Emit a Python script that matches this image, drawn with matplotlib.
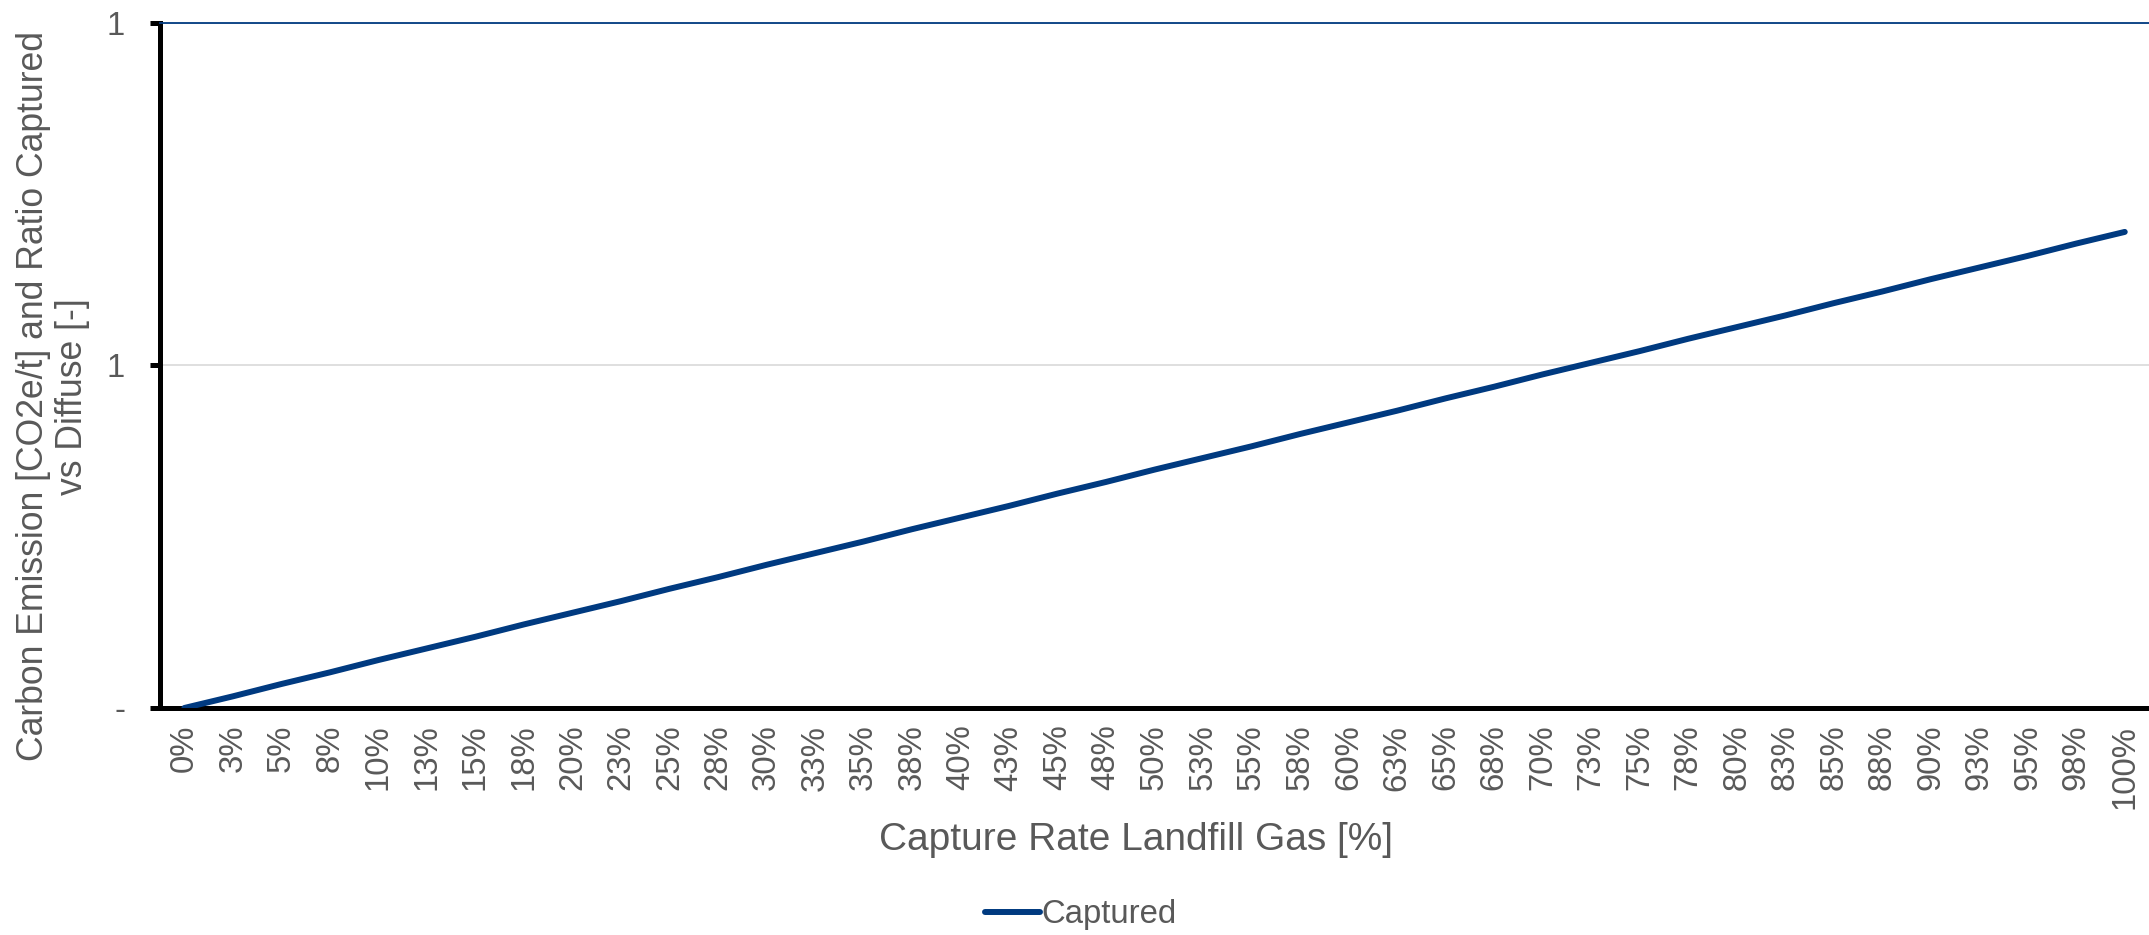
import matplotlib
matplotlib.use("Agg")
import matplotlib.pyplot as plt

plt.rcParams['font.family'] = ['Liberation Sans', 'DejaVu Sans']

# capture rate categories (Excel rounded labels)
rate_labels = ["0%", "3%", "5%", "8%", "10%", "13%", "15%", "18%", "20%", "23%",
               "25%", "28%", "30%", "33%", "35%", "38%", "40%", "43%", "45%", "48%",
               "50%", "53%", "55%", "58%", "60%", "63%", "65%", "68%", "70%", "73%",
               "75%", "78%", "80%", "83%", "85%", "88%", "90%", "93%", "95%", "98%",
               "100%"]
captured = [0.000, 0.017, 0.035, 0.052, 0.070, 0.087, 0.104, 0.122, 0.139, 0.156,
            0.174, 0.191, 0.209, 0.226, 0.243, 0.261, 0.278, 0.295, 0.313, 0.330,
            0.348, 0.365, 0.382, 0.400, 0.417, 0.434, 0.452, 0.469, 0.487, 0.504,
            0.521, 0.539, 0.556, 0.573, 0.591, 0.608, 0.626, 0.643, 0.660, 0.678,
            0.695]
y_ticks = [0, 0.5, 1.0]
y_tick_labels = ["-", "1", "1"]

grey = "#595959"
navy = "#003A80"

fig = plt.figure(figsize=(21.49, 9.35), dpi=100)
ax = fig.add_axes([0.0745, 0.2428, 0.9255, 0.7326])

x = list(range(len(rate_labels)))
ax.plot(x, captured, color=navy, lw=4.3, solid_capstyle='round', label="Captured",
        zorder=3)

ax.set_xlim(-0.5, len(rate_labels) - 0.5)
ax.set_ylim(0, 1)
ax.set_xticks(x)
ax.set_xticklabels(rate_labels, rotation=90, fontsize=23.7, color=grey)
ax.set_yticks(y_ticks)
ax.set_yticklabels(y_tick_labels, fontsize=23.7, color=grey)
ax.tick_params(axis='x', length=0, pad=12)
ax.tick_params(axis='y', length=7.2, width=3.6, color='black', pad=18)

ax.grid(axis='y', color='#d9d9d9', lw=1.2, zorder=0)
for s in ['left', 'bottom']:
    ax.spines[s].set_color('black')
    ax.spines[s].set_linewidth(3.6)
ax.spines['top'].set_color(navy)
ax.spines['top'].set_linewidth(1.3)
ax.spines['right'].set_visible(False)

ax.set_xlabel("Capture Rate Landfill Gas [%]", fontsize=28, color=grey,
              ha='center', va='center')
ax.xaxis.set_label_coords(0.4907, -0.193)
ax.set_ylabel("Carbon Emission [CO2e/t] and Ratio Captured\nvs Diffuse [-]",
              fontsize=25.6, color=grey, linespacing=1.12, ha='center', va='center')
ax.yaxis.set_label_coords(-0.0538, 0.455)

fig.legend(loc='center', bbox_to_anchor=(0.503, 0.0214), frameon=False,
           fontsize=23.7, labelcolor=grey, handlelength=1.67, handletextpad=0.05)

fig.savefig("out.png", dpi=100)
plt.close()
